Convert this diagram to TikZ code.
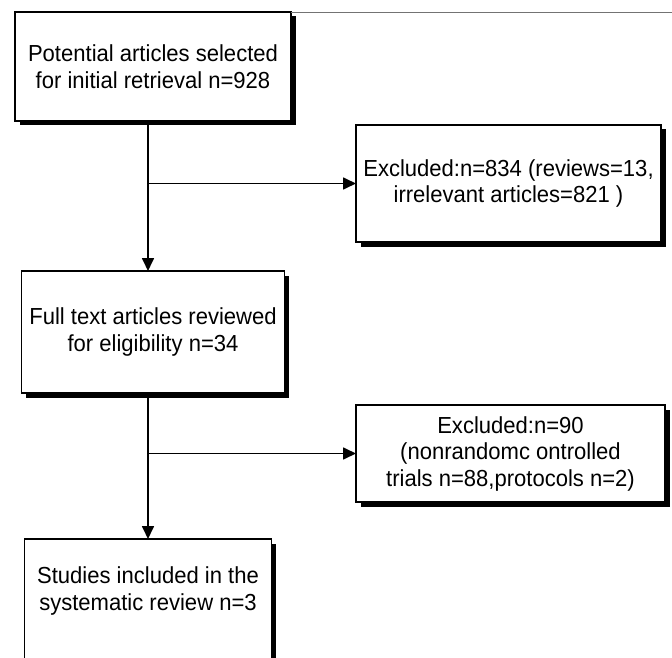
\documentclass[tikz,border=0pt]{standalone}
\usepackage{fontspec}
\setmainfont{Liberation Sans}[FakeStretch=0.95]
\usetikzlibrary{positioning,shadows,arrows.meta}

\begin{document}
\begin{tikzpicture}[x=1pt, y=-1pt,
  box/.style={draw, rectangle, line width=1.5pt, fill=white, align=center,
    inner sep=2pt, outer sep=0pt, font=\fontsize{23.2}{26.5}\selectfont,
    drop shadow={shadow xshift=4.5pt, shadow yshift=-4.5pt, fill=black,
    opacity=1}},
  link/.style={line width=1.7pt, -{Triangle[length=13pt, width=12pt]}}]
        \clip (0,0) rectangle (672,658);

        \node[box, minimum width=276pt, minimum height=109pt] (A)
        at (153,66.5) {Potential articles selected\\for initial retrieval n=928};

        \node[box, minimum width=305pt, minimum height=117pt] (B)
        at (508.5,183.5) {Excluded:n=834 (reviews=13,\\irrelevant articles=821 )};

        \node[box, below=150pt of A, minimum width=263pt,
        minimum height=122pt] (C) {Full text articles reviewed\\for eligibility n=34};

        \node[box, minimum width=309pt, minimum height=97pt] (D)
        at (510.5,453.5) {Excluded:n=90\\(nonrandomc ontrolled\\trials n=88,protocols n=2)};

        \node[box, below=146pt of C, xshift=-5pt, minimum width=247pt,
        text height=69pt, text depth=60pt] (E)
        {Studies included in the\\systematic review n=3};

        % connectors
        \draw[link] (A.south -| E.north) -- (C.north -| E.north);
        \draw[link] (B.west -| E.north) -- (B.west);
        \draw[link] (C.south -| E.north) -- (E.north);
        \draw[link] (D.west -| E.north) -- (D.west);

        \coordinate (edge) at (672,12);
        \draw[black!55, line width=0.8pt] (A.north east) -- (edge);
      \end{tikzpicture}
\end{document}
